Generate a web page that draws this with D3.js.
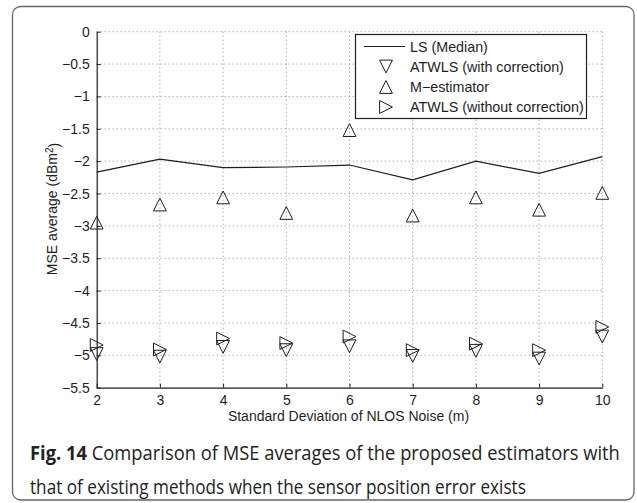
<!DOCTYPE html>
<html>
<head>
<meta charset="utf-8">
<script src="https://cdn.jsdelivr.net/npm/d3@7"></script>
<style>
  html, body { margin: 0; padding: 0; background: #fff; }
  svg { display: block; }
</style>
</head>
<body>
<svg id="fig" width="637" height="503"></svg>
<script>
// Standard deviation of NLOS noise (m)
const sigma = [2, 3, 4, 5, 6, 7, 8, 9, 10];
// MSE averages (dBm^2)
const lsMedian      = [-2.17, -1.97, -2.10, -2.09, -2.06, -2.29, -2.00, -2.19, -1.93];
const atwlsCorr     = [-4.98, -5.02, -4.87, -4.92, -4.86, -5.01, -4.93, -5.05, -4.71];
const mEstimator    = [-2.95, -2.67, -2.56, -2.80, -1.52, -2.84, -2.56, -2.75, -2.49];
const atwlsNoCorr   = [-4.84, -4.91, -4.74, -4.81, -4.71, -4.92, -4.82, -4.92, -4.56];
const yTicks = [0, -0.5, -1, -1.5, -2, -2.5, -3, -3.5, -4, -4.5, -5, -5.5];
const legendLabels = ["LS (Median)", "ATWLS (with correction)", "M\u2212estimator", "ATWLS (without correction)"];

const svg = d3.select("#fig");
const ink = "#1e1e1e";
const axisFont = "'Liberation Sans', Arial, Helvetica, sans-serif";

// outer frame
svg.append("rect")
  .attr("x", 12.5).attr("y", 6.5).attr("width", 621.5).attr("height", 493.5)
  .attr("rx", 8).attr("ry", 8)
  .attr("fill", "none").attr("stroke", "#666").attr("stroke-width", 1.3);

const L = 96.7, R = 602.3, T = 31.7, B = 387.7;
const x = d3.scaleLinear().domain([2, 10]).range([L, R]);
const y = d3.scaleLinear().domain([0, -5.5]).range([T, B]);

// dotted grid
const grid = svg.append("g").attr("stroke", "#8a8a8a").attr("stroke-width", 1)
  .attr("stroke-dasharray", "1,3").attr("fill", "none");
grid.selectAll("line.v").data(sigma.slice(1)).join("line")
  .attr("x1", d => x(d)).attr("x2", d => x(d)).attr("y1", T).attr("y2", B);
grid.selectAll("line.h").data(yTicks.slice(0, -1)).join("line")
  .attr("x1", L).attr("x2", R).attr("y1", d => y(d)).attr("y2", d => y(d));

// axes
const fmt = d3.format("~g");
const yAxis = svg.append("g").attr("transform", `translate(${L},0)`)
  .call(d3.axisLeft(y).tickValues(yTicks).tickFormat(fmt).tickSizeInner(-4).tickSizeOuter(0).tickPadding(7));
const xAxis = svg.append("g").attr("transform", `translate(0,${B})`)
  .call(d3.axisBottom(x).tickValues(sigma).tickFormat(fmt).tickSizeInner(-4).tickSizeOuter(0).tickPadding(7));
[yAxis, xAxis].forEach(a => {
  a.select(".domain").attr("stroke", ink).attr("stroke-width", 1.2);
  a.selectAll(".tick line").attr("stroke", ink);
  a.selectAll(".tick text").attr("fill", ink)
    .style("font-family", axisFont).style("font-size", "14px");
});
xAxis.selectAll(".tick text").attr("dy", "0.75em");

// axis titles
svg.append("text")
  .attr("x", (L + R) / 2 - 1).attr("y", 421)
  .attr("text-anchor", "middle").attr("fill", ink)
  .style("font-family", axisFont).style("font-size", "14px")
  .text("Standard Deviation of NLOS Noise (m)");

const yl = svg.append("text")
  .attr("transform", "translate(57,209) rotate(-90)")
  .attr("text-anchor", "middle").attr("fill", ink)
  .style("font-family", axisFont).style("font-size", "14px");
yl.append("tspan").text("MSE average (dBm");
yl.append("tspan").attr("dy", "-0.45em").style("font-size", "10px").text("2");
yl.append("tspan").attr("dy", "0.45em").text(")");

// triangle markers
const triSize = 6.4;
function tri(dir) {
  const s = triSize;
  if (dir === "down") return `M${-s},${-s}L${s},${-s}L0,${s}Z`;
  if (dir === "up")   return `M${-s},${s}L${s},${s}L0,${-s}Z`;
  return `M${-s},${-s}L${s},0L${-s},${s}Z`;
}

// LS median line
const line = d3.line().x((d, i) => x(sigma[i])).y(d => y(d));
svg.append("path").datum(lsMedian).attr("d", line)
  .attr("fill", "none").attr("stroke", ink).attr("stroke-width", 1.2);

function markers(vals, dir) {
  svg.append("g").selectAll("path").data(vals).join("path")
    .attr("transform", (d, i) => `translate(${x(sigma[i])},${y(d)})`)
    .attr("d", tri(dir))
    .attr("fill", "none").attr("stroke", ink).attr("stroke-width", 1);
}
markers(atwlsCorr, "down");
markers(mEstimator, "up");
markers(atwlsNoCorr, "right");

// legend
const lg = svg.append("g");
lg.append("rect").attr("x", 355.5).attr("y", 34.5).attr("width", 231).attr("height", 84)
  .attr("fill", "#fff").attr("stroke", ink).attr("stroke-width", 1.2);
const rowY = [46.5, 66.5, 87, 107];
lg.append("line").attr("x1", 364).attr("x2", 405).attr("y1", rowY[0]).attr("y2", rowY[0])
  .attr("stroke", ink).attr("stroke-width", 1.2);
[["down", 1], ["up", 2], ["right", 3]].forEach(([dir, i]) => {
  lg.append("path").attr("transform", `translate(386,${rowY[i]})`).attr("d", tri(dir))
    .attr("fill", "none").attr("stroke", ink).attr("stroke-width", 1);
});
lg.selectAll("text").data(legendLabels).join("text")
  .attr("x", 410).attr("y", (d, i) => rowY[i]).attr("dy", "0.35em")
  .attr("fill", ink).style("font-family", axisFont).style("font-size", "14.3px")
  .text(d => d);

// caption: Open Sans at full size, each line squeezed horizontally to its text width
const capFont = "'Open Sans', 'Noto Sans', sans-serif";
const capSize = 20;
function captionLine(yPos, width, parts) {
  const g = svg.append("g");
  const t = g.append("text").attr("x", 0).attr("y", yPos).attr("fill", "#222")
    .style("font-family", capFont).style("font-size", capSize + "px");
  parts.forEach(([txt, bold]) => {
    t.append("tspan").style("font-weight", bold ? "bold" : "normal").text(txt);
  });
  const w = t.node().getComputedTextLength();
  g.attr("transform", `translate(30,0) scale(${width / w},1)`);
}
captionLine(460, 590, [["Fig. 14", true], [" Comparison of MSE averages of the proposed estimators with", false]]);
captionLine(494, 496, [["that of existing methods when the sensor position error exists", false]]);
</script>
</body>
</html>
